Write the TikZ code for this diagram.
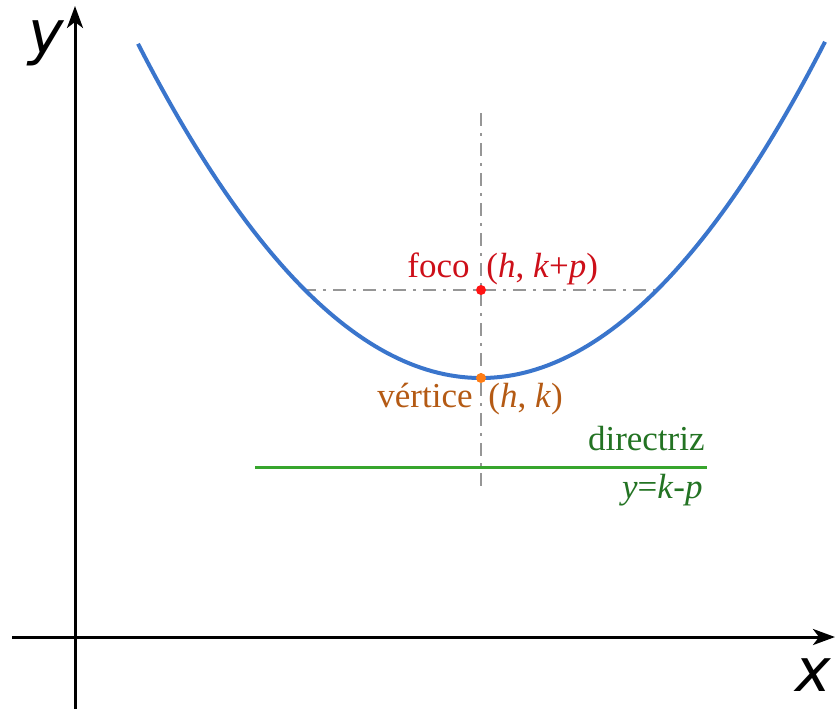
\documentclass[tikz,border=0pt]{standalone}
\usepackage{fontspec}
\usetikzlibrary{arrows.meta}
\setmainfont{Liberation Serif}
\newfontfamily\axisfont{DejaVu Sans}
\definecolor{parblue}{RGB}{58,117,204}
\definecolor{focred}{RGB}{205,15,25}
\definecolor{dotred}{RGB}{255,20,20}
\definecolor{vertbrown}{RGB}{180,90,20}
\definecolor{dotorange}{RGB}{255,125,20}
\definecolor{dirgreen}{RGB}{55,165,45}
\definecolor{dirtext}{RGB}{35,115,35}
\definecolor{guidegray}{RGB}{150,150,150}
\tikzset{
  axisline/.style={line width=1.5pt, black, -{Stealth[length=11pt,width=8pt,inset=3pt]}},
  axislabel/.style={font=\axisfont\itshape\fontsize{30}{30}\selectfont, inner sep=0pt},
  guide/.style={guidegray, line width=1.2pt, dash pattern=on 6.5pt off 3.5pt on 1.5pt off 3.5pt},
  curve/.style={parblue, line width=2pt},
  lbl/.style={font=\fontsize{17.5}{20}\selectfont, inner sep=0pt},
  ptdot/.style={circle, inner sep=0pt, minimum size=5pt}
}
\begin{document}
\begin{tikzpicture}[x=0.5pt,y=-0.5pt]
\useasboundingbox (0,0) rectangle (835,709);
% axes
\coordinate (ybot) at (75,709);
\coordinate (ytop) at (75,6);
\coordinate (xleft) at (12,637);
\coordinate (xright) at (835,637);
\draw[axisline] (ybot) -- (ytop);
\draw[axisline] (xleft) -- (xright);
\node[axislabel, anchor=base] (ylab) at (46,53) {y};
\node[axislabel, anchor=base] (xlab) at (813,691) {x};
% guide lines
\coordinate (vtop) at (481,113);
\coordinate (vbot) at (481,487);
\coordinate (lrleft) at (303,290);
\coordinate (lrright) at (658,290);
\draw[guide] (vtop) -- (vbot);
\draw[guide] (lrleft) -- (lrright);
% parabola
\draw[curve, domain=138:825, samples=120] plot (\x, {378 - 352*((\x-481)/352)^2});
% directrix
\coordinate (dleft) at (255,467);
\coordinate (dright) at (707,467);
\draw[dirgreen, line width=1.5pt] (dleft) -- (dright);
% points
\node[ptdot, fill=dotred] (F) at (481,290) {};
\node[ptdot, fill=dotorange] (V) at (481,378) {};
% labels
\node[lbl, focred, anchor=base east] (foco) at (470,277) {foco};
\node[lbl, focred, anchor=base west] (fococ) at (486,277) {(\textit{h}, \textit{k}+\textit{p})};
\node[lbl, vertbrown, anchor=base east] (vert) at (473,407) {vértice};
\node[lbl, vertbrown, anchor=base west] (vertc) at (488,407) {(\textit{h}, \textit{k})};
\node[lbl, dirtext, anchor=base east] (dir) at (705,450) {directriz};
\node[lbl, dirtext, anchor=base east] (direq) at (703,498) {\textit{y}=\textit{k}-\textit{p}};
\end{tikzpicture}
\end{document}
